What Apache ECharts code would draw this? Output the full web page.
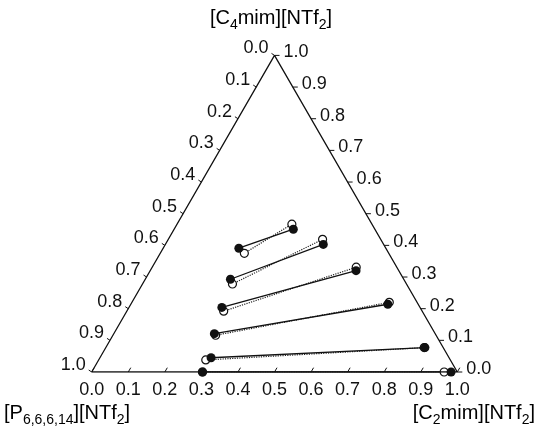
<!DOCTYPE html>
<html>
<head>
<meta charset="utf-8">
<script src="https://cdn.jsdelivr.net/npm/echarts@6/dist/echarts.min.js"></script>
<style>
  html, body { margin: 0; padding: 0; background: #fff; }
  #chart { width: 538px; height: 427px; }
</style>
</head>
<body>
<div id="chart"></div>
<script>
// Ternary phase diagram: [P6,6,6,14][NTf2] (left corner), [C2mim][NTf2] (right corner),
// [C4mim][NTf2] (top corner). Compositions are given as [x(C2mim), x(C4mim)];
// x(P6,6,6,14) is the remainder.

const tickValues = [0, 0.1, 0.2, 0.3, 0.4, 0.5, 0.6, 0.7, 0.8, 0.9, 1.0];
const tickLabels = ['0.0', '0.1', '0.2', '0.3', '0.4', '0.5', '0.6', '0.7', '0.8', '0.9', '1.0'];

// Experimental tie lines (filled circles, solid lines)
const expPhaseP  = [[0.207, 0.391], [0.233, 0.293], [0.254, 0.204], [0.275, 0.121], [0.304, 0.045], [0.303, 0.000]];
const expPhaseC2 = [[0.326, 0.451], [0.432, 0.403], [0.563, 0.320], [0.703, 0.214], [0.873, 0.077], [0.983, 0.000]];

// Calculated tie lines (open circles, dotted lines)
const calcPhaseP  = [[0.230, 0.375], [0.246, 0.278], [0.265, 0.192], [0.281, 0.116], [0.293, 0.038], [0.303, 0.000]];
const calcPhaseC2 = [[0.314, 0.467], [0.422, 0.419], [0.558, 0.331], [0.704, 0.220], [0.871, 0.077], [0.964, 0.000]];

const H = Math.sqrt(3) / 2;
// composition -> plane coordinates (equilateral triangle, side 1)
function toXY(p) { return [p[0] + p[1] / 2, p[1] * H]; }

const INK = '#111';
const FONT = '"Liberation Sans", Arial, sans-serif';

// axis id: 0 = bottom (C2mim), 1 = right (C4mim), 2 = left (P6,6,6,14)
function axisPoint(axis, v) {
  if (axis === 0) return toXY([v, 0]);
  if (axis === 1) return toXY([1 - v, v]);
  return toXY([0, 1 - v]);
}

const tickData = [];
[0, 1, 2].forEach(function (axis) {
  tickValues.forEach(function (v, i) { tickData.push([axis, v, i]); });
});

function renderTick(params, api) {
  const axis = api.value(0);
  const v = api.value(1);
  const idx = api.value(2);
  const p = api.coord(axisPoint(axis, v));
  let tick, text;
  if (axis === 0) {
    tick = [p[0] + 2.5, p[1] - 4.3];
    text = { x: p[0], y: p[1] + 9, align: 'center', verticalAlign: 'top' };
  } else if (axis === 1) {
    tick = [p[0] + 5, p[1]];
    text = { x: p[0] + 9, y: p[1] - 3, align: 'left', verticalAlign: 'middle' };
  } else {
    tick = [p[0] - 3, p[1] - 2];
    text = { x: p[0] - 6, y: p[1] - 7, align: 'right', verticalAlign: 'middle' };
  }
  return {
    type: 'group',
    children: [
      { type: 'line', shape: { x1: p[0], y1: p[1], x2: tick[0], y2: tick[1] },
        style: { stroke: INK, lineWidth: 1 } },
      { type: 'text', x: text.x, y: text.y,
        style: { text: tickLabels[idx], fill: INK, font: '18px ' + FONT,
                 align: text.align, verticalAlign: text.verticalAlign } }
    ]
  };
}

const series = [];

// triangle frame
series.push({
  type: 'line',
  data: [toXY([0, 0]), toXY([1, 0]), toXY([0, 1]), toXY([0, 0])],
  symbol: 'none',
  lineStyle: { color: INK, width: 1.3 },
  silent: true,
  z: 2
});

// ticks and tick labels
series.push({
  type: 'custom',
  renderItem: renderTick,
  data: tickData,
  clip: false,
  silent: true,
  z: 3
});

// calculated tie lines
calcPhaseP.forEach(function (p, i) {
  series.push({
    type: 'line',
    data: [toXY(p), toXY(calcPhaseC2[i])],
    symbol: 'circle',
    symbolSize: 8,
    showAllSymbol: true,
    itemStyle: { color: '#fff', borderColor: INK, borderWidth: 1.2 },
    lineStyle: { color: '#222', width: 1.2, type: 'dotted' },
    silent: true,
    z: 4
  });
});

// experimental tie lines
expPhaseP.forEach(function (p, i) {
  series.push({
    type: 'line',
    data: [toXY(p), toXY(expPhaseC2[i])],
    symbol: 'circle',
    symbolSize: 9,
    showAllSymbol: true,
    itemStyle: { color: INK },
    lineStyle: { color: INK, width: 1.3 },
    silent: true,
    z: 5
  });
});

const rich = {
  n: { fontSize: 20, fontFamily: FONT, color: INK, lineHeight: 26 },
  s: { fontSize: 14, fontFamily: FONT, color: INK, lineHeight: 26, padding: [14, 0, 0, 0] }
};

const chart = echarts.init(document.getElementById('chart'), null, { renderer: 'canvas' });
chart.setOption({
  animation: false,
  backgroundColor: '#fff',
  grid: { left: 91.7, right: 80.7, top: 55.4, bottom: 55, containLabel: false },
  xAxis: { type: 'value', min: 0, max: 1, show: false },
  yAxis: { type: 'value', min: 0, max: H, show: false },
  series: series,
  graphic: [
    { type: 'text', x: 271, y: 5,
      style: { text: '{n|[C}{s|4}{n|mim][NTf}{s|2}{n|]}', rich: rich, align: 'center' } },
    { type: 'text', x: 4, y: 400,
      style: { text: '{n|[P}{s|6,6,6,14}{n|][NTf}{s|2}{n|]}', rich: rich, align: 'left' } },
    { type: 'text', x: 535, y: 400,
      style: { text: '{n|[C}{s|2}{n|mim][NTf}{s|2}{n|]}', rich: rich, align: 'right' } }
  ]
});
</script>
</body>
</html>
